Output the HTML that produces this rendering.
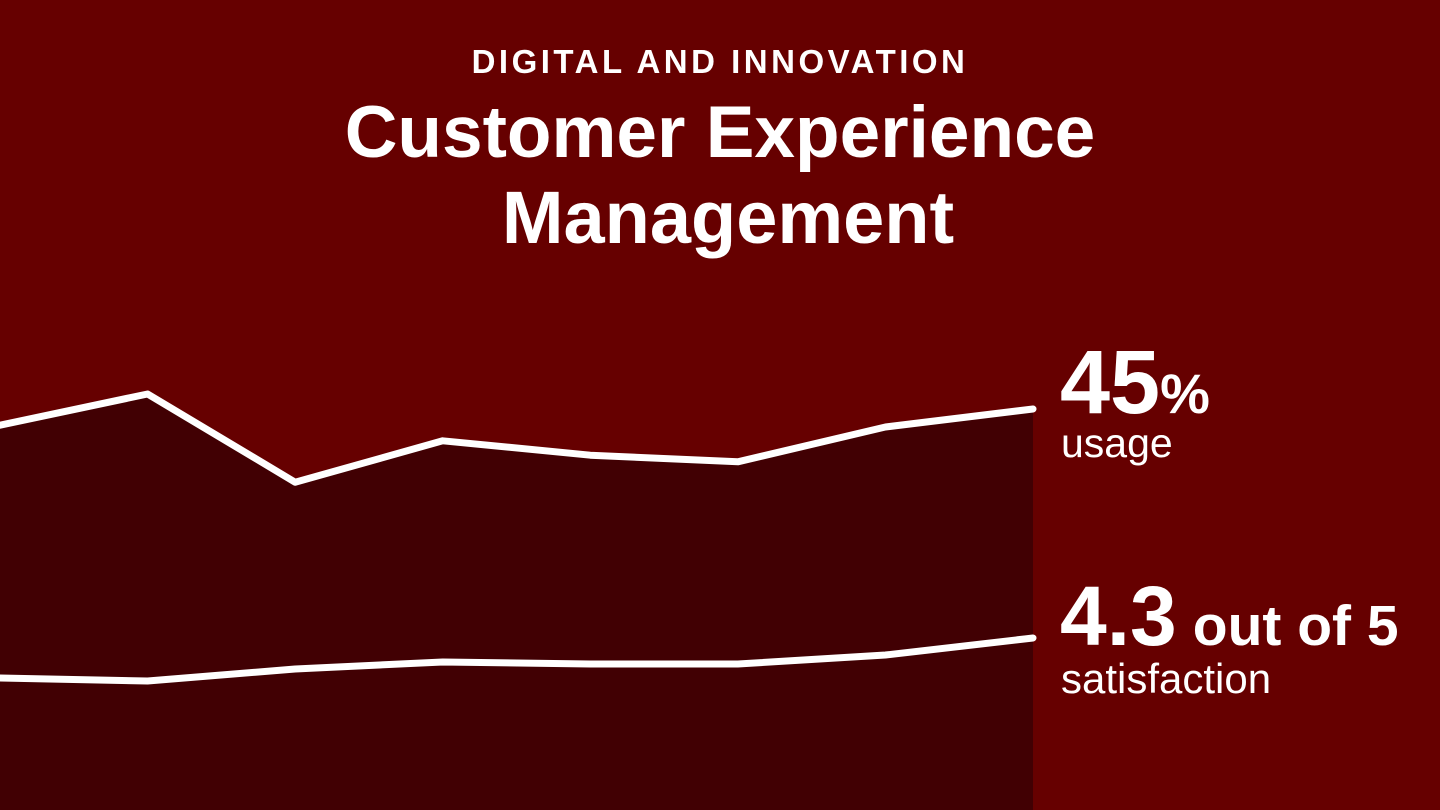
<!DOCTYPE html>
<html><head><meta charset="utf-8"><style>
html,body{margin:0;padding:0;background:#660000;}
svg{display:block;font-family:"Liberation Sans",sans-serif;}
</style></head><body>
<svg id="chart" width="1440" height="810" viewBox="0 0 1440 810">
<rect width="1440" height="810" fill="#660000"/>
<text x="720" y="73" text-anchor="middle" fill="#fff" font-size="33" font-weight="bold" letter-spacing="3.5">DIGITAL AND INNOVATION</text>
<text x="720" y="157" text-anchor="middle" fill="#fff" font-size="73" font-weight="bold">Customer Experience</text>
<text x="728" y="243" text-anchor="middle" fill="#fff" font-size="74" font-weight="bold">Management</text>
<g id="marks"></g>
<text x="1060" y="413" fill="#fff" font-weight="bold"><tspan font-size="90">45</tspan><tspan font-size="56">%</tspan></text>
<text x="1061" y="457" fill="#fff" font-size="41">usage</text>
<text x="1060" y="645" fill="#fff" font-weight="bold"><tspan font-size="84">4.3</tspan><tspan font-size="57" dx="16">out of 5</tspan></text>
<text x="1061" y="693" fill="#fff" font-size="42">satisfaction</text>
</svg>
<script>
const periods = [0,1,2,3,4,5,6,7];
const usage = [42.3, 47.5, 32.8, 39.7, 37.3, 36.2, 42.0, 45.0];
const satisfaction = [4.10, 4.085, 4.145, 4.18, 4.17, 4.17, 4.215, 4.30];
const x = i => i * (1033 / 7);
const yU = v => 409 + (45 - v) * 6;
const yS = v => 638 + (4.3 - v) * 200;
const ns = "http://www.w3.org/2000/svg";
const g = document.getElementById("marks");
const up = periods.map(i => x(i) + "," + yU(usage[i]));
const area = document.createElementNS(ns, "polygon");
area.setAttribute("points", "0,810 " + up.join(" ") + " " + x(7) + ",810");
area.setAttribute("fill", "#410003");


g.appendChild(area);
function line(pts, name){
  const p = document.createElementNS(ns, "polyline");
  p.setAttribute("points", pts.join(" "));
  p.setAttribute("fill", "none");
  p.setAttribute("stroke", "#fff");
  p.setAttribute("stroke-width", "7");
  p.setAttribute("stroke-linecap", "round");
  p.setAttribute("stroke-linejoin", "round");
  
  
  g.appendChild(p);
}
line(up, 'usage-line');
line(periods.map(i => x(i) + "," + yS(satisfaction[i])), 'satisfaction-line');
</script>
</body></html>
